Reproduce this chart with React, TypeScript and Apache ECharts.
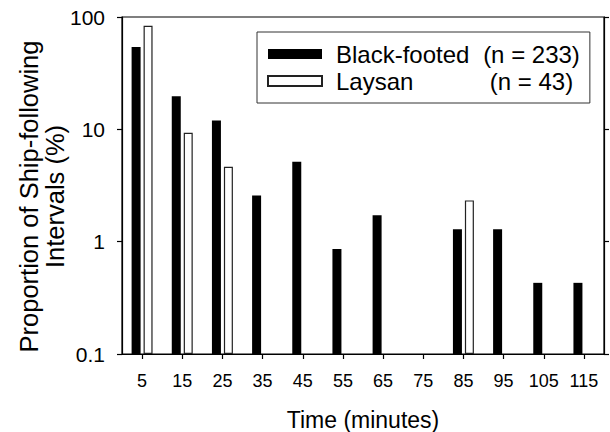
import React, { useEffect, useRef } from "react";
import * as echarts from "echarts";

const categories = ["5", "15", "25", "35", "45", "55", "65", "75", "85", "95", "105", "115"];
const blackFooted = [54.1, 19.7, 12.0, 2.58, 5.15, 0.86, 1.72, null, 1.29, 1.29, 0.43, 0.43];
const laysan = [83.7, 9.3, 4.65, null, null, null, null, null, 2.33, null, null, null];
const seriesNames = ["Black-footed", "Laysan"];
const seriesN = ["(n = 233)", "(n = 43)"];
const yTicks = [0.1, 1, 10, 100];

const FONT = "'Liberation Sans', Arial, Helvetica, sans-serif";

export default function App() {
  const ref = useRef<HTMLDivElement>(null);
  useEffect(() => {
    if (!ref.current) return;
    const chart = echarts.init(ref.current, undefined, { renderer: "svg" });
    const yAxisBase = {
      type: "log",
      logBase: 10,
      min: 0.1,
      max: 100,
      startValue: 0.1,
      splitLine: { show: false },
      minorTick: { show: false },
      axisLine: { show: true, lineStyle: { color: "#000", width: 1.2 } },
      axisTick: { show: true, inside: false, length: 5, lineStyle: { color: "#000", width: 1.2 } },
    };
    chart.setOption({
      animation: false,
      backgroundColor: "#fff",
      textStyle: { fontFamily: FONT },
      grid: {
        left: 122,
        right: 6,
        top: 17,
        bottom: 78,
        show: true,
        borderColor: "#000",
        borderWidth: 1.2,
        containLabel: false,
        outerBoundsMode: "none",
      },
      legend: {
        orient: "vertical",
        left: 257,
        top: 32,
        padding: [10, 10, 10, 10],
        itemWidth: 54,
        itemHeight: 10,
        itemGap: 3,
        icon: "rect",
        borderColor: "#333",
        borderWidth: 1,
        backgroundColor: "#fff",
        data: seriesNames,
        formatter: (name: string) => {
          const i = seriesNames.indexOf(name);
          return `{a|${name}}{b|${seriesN[i]}}`;
        },
        textStyle: {
          fontFamily: FONT,
          color: "#000",
          rich: {
            a: { fontSize: 24, fontFamily: FONT, color: "#000", width: 148, lineHeight: 18, padding: [0, 0, 0, 9] },
            b: { fontSize: 24, fontFamily: FONT, color: "#000", width: 95, align: "center", lineHeight: 18 },
          },
        },
      },
      xAxis: {
        type: "category",
        data: categories,
        name: "Time (minutes)",
        nameLocation: "middle",
        nameGap: 54,
        nameMoveOverlap: false,
        nameTextStyle: { fontSize: 23, color: "#000", fontFamily: FONT },
        axisLine: { show: true, lineStyle: { color: "#000", width: 1.2 } },
        axisTick: { show: true, alignWithLabel: true, length: 5, lineStyle: { color: "#000", width: 1.2 } },
        axisLabel: { fontSize: 18, color: "#000", margin: 18, fontFamily: FONT, interval: 0 },
        splitLine: { show: false },
      },
      yAxis: [
        {
          ...yAxisBase,
          position: "left",
          name: "Proportion of Ship-following\nIntervals (%)",
          nameLocation: "middle",
          nameGap: 54,
          nameMoveOverlap: false,
          nameTextStyle: {
            fontSize: 25.5,
            color: "#000",
            fontFamily: FONT,
            lineHeight: 26,
            padding: [0, 22, 0, 0],
          },
          axisLabel: {
            fontSize: 21,
            color: "#000",
            margin: 17,
            fontFamily: FONT,
            formatter: (v: number) => {
              const t = yTicks.find((x) => Math.abs(x - v) / x < 1e-6);
              return t !== undefined ? String(t) : "";
            },
          },
        },
        {
          ...yAxisBase,
          position: "right",
          axisLabel: { show: false },
        },
      ],
      series: [
        {
          name: seriesNames[0],
          type: "bar",
          data: blackFooted,
          barWidth: 9,
          barGap: "33%",
          itemStyle: { color: "#000" },
        },
        {
          name: seriesNames[1],
          type: "bar",
          data: laysan,
          barWidth: 9,
          barGap: "33%",
          itemStyle: { color: "#fff", borderColor: "#222", borderWidth: 1.2 },
        },
      ],
    });
    return () => chart.dispose();
  }, []);
  return (
    <div
      ref={ref}
      style={{ position: "absolute", left: 0, top: 0, width: 610, height: 432 }}
    />
  );
}
